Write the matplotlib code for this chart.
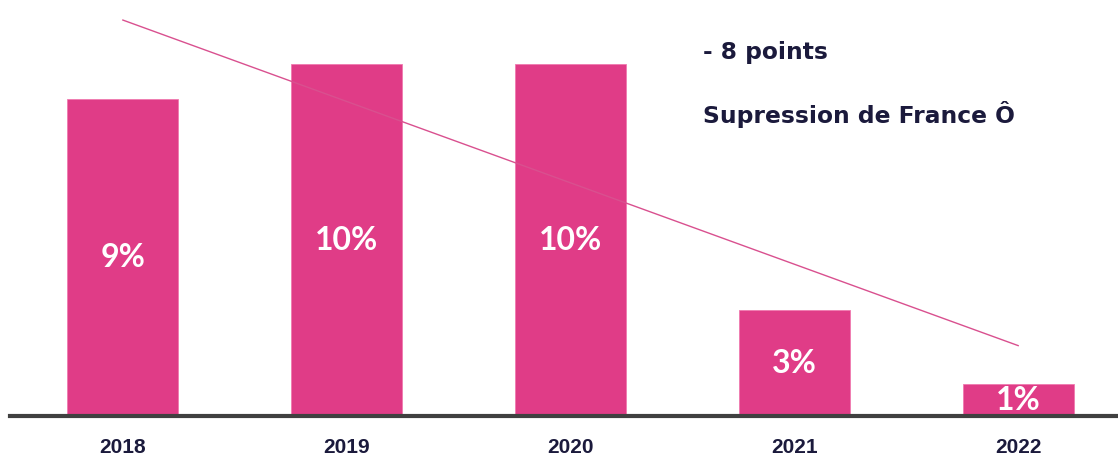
import matplotlib.pyplot as plt
import numpy as np

# data
years = ["2018", "2019", "2020", "2021", "2022"]
shares = [9.0, 10.0, 10.0, 3.0, 0.9]
share_labels = ["9%", "10%", "10%", "3%", "1%"]
trend_x = [0, 4]
trend_y = [11.25, 2.0]
notes = ["- 8 points", "Supression de France Ô"]

PINK = "#E03C87"
NAVY = "#1B1A3C"

fig = plt.figure(figsize=(11.18, 4.55), dpi=100)
ax = fig.add_axes([0.009, 0.0857, 0.991, 0.9143])

x = np.arange(len(years))
ax.bar(x, shares, width=0.495, color=PINK, edgecolor="#F07AB0", linewidth=0.6, zorder=2)

for xi, v, lab in zip(x, shares, share_labels):
    ax.text(xi, v / 2, lab, ha="center", va="center", color="white",
            fontsize=23, fontweight="bold", family=["Lato", "DejaVu Sans"], zorder=3)

ax.plot(trend_x, trend_y, color="#D9508F", linewidth=1.0, zorder=4)

ax.set_xlim(-0.504, 4.446)
ax.set_ylim(0, 11.82)

ax.set_xticks(x)
ax.set_xticklabels(years, fontsize=15, fontweight="bold", color=NAVY,
                   family=["Liberation Sans", "DejaVu Sans"])
ax.tick_params(axis="x", length=0, pad=15.5)
ax.set_yticks([])

for side in ["top", "right", "left"]:
    ax.spines[side].set_visible(False)
ax.spines["bottom"].set_color("#404040")
ax.spines["bottom"].set_linewidth(3)

# annotations at top right
fig.text(703 / 1118, 1 - 52 / 455, notes[0], ha="left", va="center", color=NAVY,
         fontsize=16.8, fontweight="bold", family=["DejaVu Sans"])
fig.text(703 / 1118, 1 - 115 / 455, notes[1], ha="left", va="center", color=NAVY,
         fontsize=16.8, fontweight="bold", family=["DejaVu Sans"])

fig.savefig("out.png", dpi=100)
